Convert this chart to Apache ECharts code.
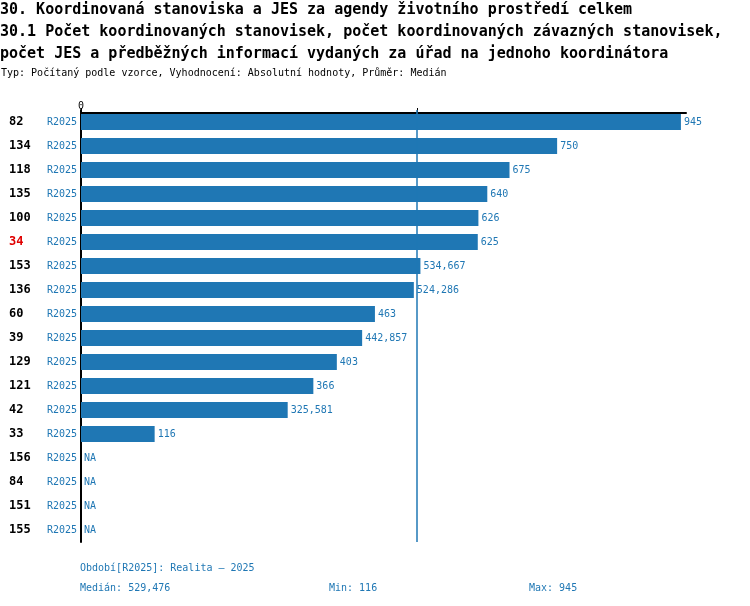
<!DOCTYPE html>
<html>
<head>
<meta charset="utf-8">
<script src="https://cdn.jsdelivr.net/npm/echarts@6/dist/echarts.min.js"></script>
<style>
  html, body { margin: 0; padding: 0; background: #fff; }
  #main { width: 750px; height: 606px; }
</style>
</head>
<body>
<div id="main"></div>
<script>
// data
var ids = ['82', '134', '118', '135', '100', '34', '153', '136', '60', '39', '129', '121', '42', '33', '156', '84', '151', '155'];
var period = 'R2025';
var values = [945, 750, 675, 640, 626, 625, 534.667, 524.286, 463, 442.857, 403, 366, 325.581, 116, null, null, null, null];
var highlightId = '34';
var median = 529.476;
var minVal = 116;
var maxVal = 945;

var blue = '#1f77b4';
var mono = 'DejaVu Sans Mono';

function fmt(v) {
    return String(v).replace('.', ',');
}

var myChart = echarts.init(document.getElementById('main'));

// NA rows: zero-length transparent bar so the label still shows
var barData = values.map(function (v) {
    if (v === null) {
        return { value: 0, itemStyle: { color: 'rgba(0,0,0,0)' } };
    }
    return v;
});

var options = {
    animation: false,
    title: [{
        text: '30. Koordinovaná stanoviska a JES za agendy životního prostředí celkem\n' +
              '30.1 Počet koordinovaných stanovisek, počet koordinovaných závazných stanovisek,\n' +
              'počet JES a předběžných informací vydaných za úřad na jednoho koordinátora',
        left: 0, top: -1, padding: 0,
        textStyle: { fontFamily: mono, fontSize: 15, fontWeight: 'bold', color: '#000', lineHeight: 22 }
    }, {
        text: 'Typ: Počítaný podle vzorce, Vyhodnocení: Absolutní hodnoty, Průměr: Medián',
        left: 1, top: 67, padding: 0,
        textStyle: { fontFamily: mono, fontSize: 10, fontWeight: 'normal', color: '#000', lineHeight: 12 }
    }, {
        text: 'Období[' + period + ']: Realita – 2025',
        left: 80, top: 562, padding: 0,
        textStyle: { fontFamily: mono, fontSize: 10, fontWeight: 'normal', color: blue, lineHeight: 12 }
    }, {
        text: 'Medián: ' + fmt(median),
        left: 80, top: 582, padding: 0,
        textStyle: { fontFamily: mono, fontSize: 10, fontWeight: 'normal', color: blue, lineHeight: 12 }
    }, {
        text: 'Min: ' + fmt(minVal),
        left: 329, top: 582, padding: 0,
        textStyle: { fontFamily: mono, fontSize: 10, fontWeight: 'normal', color: blue, lineHeight: 12 }
    }, {
        text: 'Max: ' + fmt(maxVal),
        left: 529, top: 582, padding: 0,
        textStyle: { fontFamily: mono, fontSize: 10, fontWeight: 'normal', color: blue, lineHeight: 12 }
    }],
    grid: { left: 81, right: 64, top: 110, height: 432, containLabel: false },
    xAxis: {
        type: 'value',
        position: 'top',
        offset: -3,
        min: 0,
        max: 953,
        splitLine: { show: false },
        axisLine: { show: true, lineStyle: { color: '#000', width: 2 } },
        axisTick: { show: true, length: 5, customValues: [0, median], lineStyle: { color: '#000' } },
        axisLabel: {
            customValues: [0],
            margin: 2,
            fontFamily: mono, fontSize: 10, color: '#000'
        }
    },
    yAxis: {
        type: 'category',
        inverse: true,
        data: ids,
        axisLine: { show: true, lineStyle: { color: '#000', width: 2 } },
        axisTick: { show: false },
        axisLabel: {
            margin: 4,
            formatter: function (val) {
                var st = val === highlightId ? 'idRed' : 'id';
                return '{' + st + '|' + val + '}{per|' + period + '}';
            },
            rich: {
                id: { fontFamily: mono, fontSize: 12, fontWeight: 'bold', color: '#000', width: 36, align: 'left' },
                idRed: { fontFamily: mono, fontSize: 12, fontWeight: 'bold', color: '#e00000', width: 36, align: 'left' },
                per: { fontFamily: mono, fontSize: 10, color: blue, width: 32, align: 'right' }
            }
        }
    },
    series: [{
        type: 'bar',
        data: barData,
        barWidth: 16,
        itemStyle: { color: blue },
        label: {
            show: true,
            position: 'right',
            distance: 3,
            fontFamily: mono, fontSize: 10, color: blue,
            formatter: function (p) {
                var v = values[p.dataIndex];
                return v === null ? 'NA' : fmt(v);
            }
        },
        markLine: {
            silent: true,
            symbol: 'none',
            label: { show: false },
            lineStyle: { color: blue, width: 1.5, type: 'solid', opacity: 1 },
            data: [{ xAxis: median }]
        }
    }]
};
myChart.setOption(options);
</script>
</body>
</html>
